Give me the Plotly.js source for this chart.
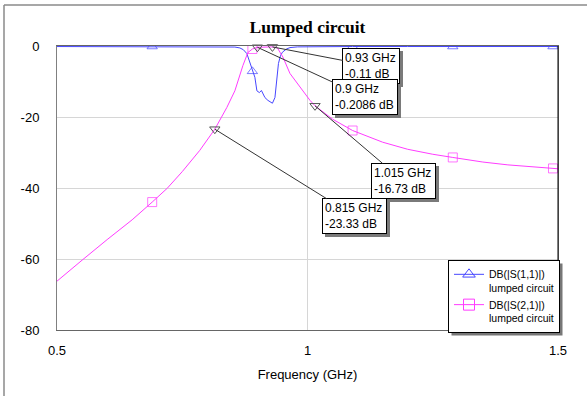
<!DOCTYPE html>
<html>
<head>
<meta charset="utf-8">
<script src="https://cdn.plot.ly/plotly-3.0.1.min.js"></script>
<style>html,body{margin:0;padding:0;background:#fff;}#chart{width:587px;height:396px;}</style>
</head>
<body>
<div id="chart"></div>
<script>
// ---- data ----
const s11Freq = [0.49, 0.5, 0.6, 0.69, 0.75, 0.8, 0.84, 0.855, 0.865, 0.872, 0.879, 0.884, 0.89, 0.895, 0.899, 0.904, 0.908, 0.915, 0.921, 0.93, 0.935, 0.939, 0.942, 0.946, 0.95, 0.958, 0.965, 0.98, 1.0, 1.05, 1.09, 1.2, 1.29, 1.4, 1.49, 1.5];
const s11Db   = [0, 0, 0, 0, 0, -0.01, -0.05, -0.15, -0.4, -0.9, -2.0, -4.0, -7.0, -8.7, -12.5, -13.0, -12.4, -14.4, -15.2, -16.0, -14.4, -9.6, -4.8, -2.6, -1.6, -0.7, -0.3, -0.1, -0.05, -0.02, 0, 0, 0, 0, 0, 0];

const s21Freq = [0.49, 0.5, 0.55, 0.6, 0.65, 0.69, 0.72, 0.75, 0.785, 0.815, 0.839, 0.855, 0.871, 0.881, 0.89, 0.9, 0.915, 0.93, 0.94, 0.951, 0.965, 0.985, 1.005, 1.015, 1.05, 1.09, 1.15, 1.2, 1.25, 1.29, 1.35, 1.4, 1.45, 1.49, 1.5];
const s21Db   = [-67.4, -66.2, -60.3, -54.5, -48.9, -43.9, -40.0, -35.3, -29.3, -23.33, -17.2, -12.5, -5.4, -1.7, -0.7, -0.2086, -0.12, -0.11, -0.4, -3.0, -7.6, -11.5, -15.2, -16.73, -20.5, -23.7, -27.0, -29.0, -30.4, -31.3, -32.6, -33.4, -34.0, -34.4, -34.5];

const markerFreq = [0.49, 0.69, 0.89, 1.09, 1.29, 1.49];

const probeFreq = [0.93, 0.9, 1.015, 0.815];
const probeDb   = [-0.11, -0.2086, -16.73, -23.33];
const probeGhzText = ['0.93 GHz', '0.9 GHz', '1.015 GHz', '0.815 GHz'];
const probeDbText  = ['-0.11 dB', '-0.2086 dB', '-16.73 dB', '-23.33 dB'];

const seriesNames = ['DB(|S(1,1)|)', 'DB(|S(2,1)|)'];
const seriesSub = 'lumped circuit';

const xTickVals = [0.5, 1, 1.5];
const xTickText = ['0.5', '1', '1.5'];
const yTickVals = [0, -20, -40, -60, -80];
const yTickText = ['0', '-20', '-40', '-60', '-80'];

// ---- presentation ----
const FONT = 'Liberation Sans, Arial, sans-serif';
const BLUE = '#4646ff';
const MAGENTA = '#ff3cff';
const boxOffsets = [[99, 19], [108, 50], [88, 75], [140, 87]];
const ANN_SIZE = 12;

function sizesFor(freqs) {
  return freqs.map(f => markerFreq.some(m => Math.abs(m - f) < 1e-9) ? 9 : 0);
}

const cv = document.createElement('canvas').getContext('2d');
cv.font = ANN_SIZE + 'px "Liberation Sans", Arial, sans-serif';
function textW(a, b) { return Math.ceil(Math.max(cv.measureText(a).width, cv.measureText(b).width)) + 1; }

const traces = [
  {
    x: s11Freq, y: s11Db, type: 'scatter', mode: 'lines+markers', showlegend: false,
    line: {color: BLUE, width: 1},
    marker: {symbol: 'triangle-up-open', size: sizesFor(s11Freq), color: BLUE, line: {width: 1, color: BLUE}}
  },
  {
    x: s21Freq, y: s21Db, type: 'scatter', mode: 'lines+markers', showlegend: false,
    line: {color: MAGENTA, width: 1},
    marker: {symbol: 'square-open', size: sizesFor(s21Freq), color: MAGENTA, line: {width: 1, color: MAGENTA}}
  },
  {
    x: [null], y: [null], type: 'scatter', mode: 'lines+markers',
    name: seriesNames[0] + '<br>' + seriesSub,
    line: {color: BLUE, width: 1},
    marker: {symbol: 'triangle-up-open', size: 11, color: BLUE, line: {width: 1, color: BLUE}}
  },
  {
    x: [null], y: [null], type: 'scatter', mode: 'lines+markers',
    name: seriesNames[1] + '<br>' + seriesSub,
    line: {color: MAGENTA, width: 1},
    marker: {symbol: 'square-open', size: 11, color: MAGENTA, line: {width: 1, color: MAGENTA}}
  },
  {
    x: probeFreq, y: probeDb, type: 'scatter', mode: 'markers', showlegend: false,
    marker: {symbol: 'triangle-down-open', size: 9, color: '#555', line: {width: 1, color: '#555'}},
    cliponaxis: false
  }
];

const annotations = [];
probeFreq.forEach((f, i) => {
  const w = textW(probeGhzText[i], probeDbText[i]);
  annotations.push({
    x: f, y: probeDb[i], xref: 'x', yref: 'y', text: ' ', width: w, height: 30,
    showarrow: true, arrowcolor: 'rgba(0,0,0,0)', ax: boxOffsets[i][0] + 3, ay: boxOffsets[i][1] + 3,
    font: {family: FONT, size: ANN_SIZE, color: '#7a7a7a'}, bgcolor: '#7a7a7a', bordercolor: '#7a7a7a', borderwidth: 1, borderpad: 2
  });
});
probeFreq.forEach((f, i) => {
  const w = textW(probeGhzText[i], probeDbText[i]);
  annotations.push({
    x: f, y: probeDb[i], xref: 'x', yref: 'y', text: probeGhzText[i] + '<br>' + probeDbText[i],
    width: w, height: 30, align: 'left',
    showarrow: true, arrowhead: 0, arrowwidth: 1, arrowcolor: '#333', ax: boxOffsets[i][0], ay: boxOffsets[i][1],
    font: {family: FONT, size: ANN_SIZE, color: '#000'}, bgcolor: '#fff', bordercolor: '#000', borderwidth: 1, borderpad: 2
  });
});

const W = 501, H = 284, L = 57, B = 330;
const px = x => (x - L) / W;
const py = y => (B - y) / H;

const layout = {
  width: 587, height: 396,
  margin: {l: 57, r: 29, t: 46, b: 66},
  paper_bgcolor: '#fff', plot_bgcolor: '#fff',
  showlegend: true,
  title: {text: '<b>Lumped circuit</b>', font: {family: 'Liberation Serif, Times New Roman, serif', size: 17.5, color: '#000'},
          x: 0.5, xref: 'paper', xanchor: 'center', y: 1 - 27 / 396, yref: 'container', yanchor: 'middle'},
  xaxis: {
    range: [0.5, 1.5], tickvals: xTickVals, ticktext: xTickText,
    showgrid: true, gridcolor: '#d6d6d6', gridwidth: 1, zeroline: false,
    showline: true, linecolor: '#666', linewidth: 1, mirror: true,
    ticks: 'outside', ticklen: 8, tickcolor: 'rgba(0,0,0,0)',
    tickfont: {family: FONT, size: 13, color: '#000'},
    title: {text: 'Frequency (GHz)', font: {family: FONT, size: 13, color: '#000'}, standoff: 13}
  },
  yaxis: {
    range: [-80, 0.15], tickvals: yTickVals, ticktext: yTickText,
    showgrid: true, gridcolor: '#d6d6d6', gridwidth: 1, zeroline: false,
    showline: true, linecolor: '#808080', linewidth: 1, mirror: true,
    ticks: 'outside', ticklen: 14, tickcolor: 'rgba(0,0,0,0)',
    tickfont: {family: FONT, size: 13, color: '#000'}
  },
  legend: {
    x: px(448), y: py(260), xanchor: 'left', yanchor: 'top',
    bgcolor: '#fff', bordercolor: '#000', borderwidth: 1,
    font: {family: FONT, size: 10.5, color: '#000'},
    valign: 'top', tracegroupgap: 0, itemwidth: 30
  },
  shapes: [
    {type: 'line', xref: 'paper', yref: 'paper', x0: px(4), x1: px(590), y0: py(5), y1: py(5), line: {color: '#8a8a8a', width: 1.5}},
    {type: 'line', xref: 'paper', yref: 'paper', x0: px(4), x1: px(4), y0: py(5), y1: py(400), line: {color: '#8a8a8a', width: 1.5}},
    {type: 'line', xref: 'paper', yref: 'paper', x0: 1, x1: 1, y0: 0, y1: 1, line: {color: '#000', width: 1}},
    {type: 'rect', xref: 'paper', yref: 'paper', x0: px(451), x1: px(559), y0: py(323), y1: py(263), fillcolor: '#777', line: {width: 0}, layer: 'above'}
  ],
  annotations: annotations
};

Plotly.newPlot('chart', traces, layout, {displayModeBar: false, staticPlot: true}).then(gd => {
  // fit the legend shadow to the drawn legend box
  const bg = gd.querySelector('.legend .bg');
  if (bg) {
    const r = bg.getBoundingClientRect();
    const c = gd.getBoundingClientRect();
    const x0 = r.left - c.left + 3, x1 = r.right - c.left + 3;
    const y0 = r.top - c.top + 3, y1 = r.bottom - c.top + 3;
    Plotly.relayout(gd, {
      'shapes[3].x0': px(x0), 'shapes[3].x1': px(x1),
      'shapes[3].y0': py(y1), 'shapes[3].y1': py(y0)
    });
  }
});
</script>
</body>
</html>
